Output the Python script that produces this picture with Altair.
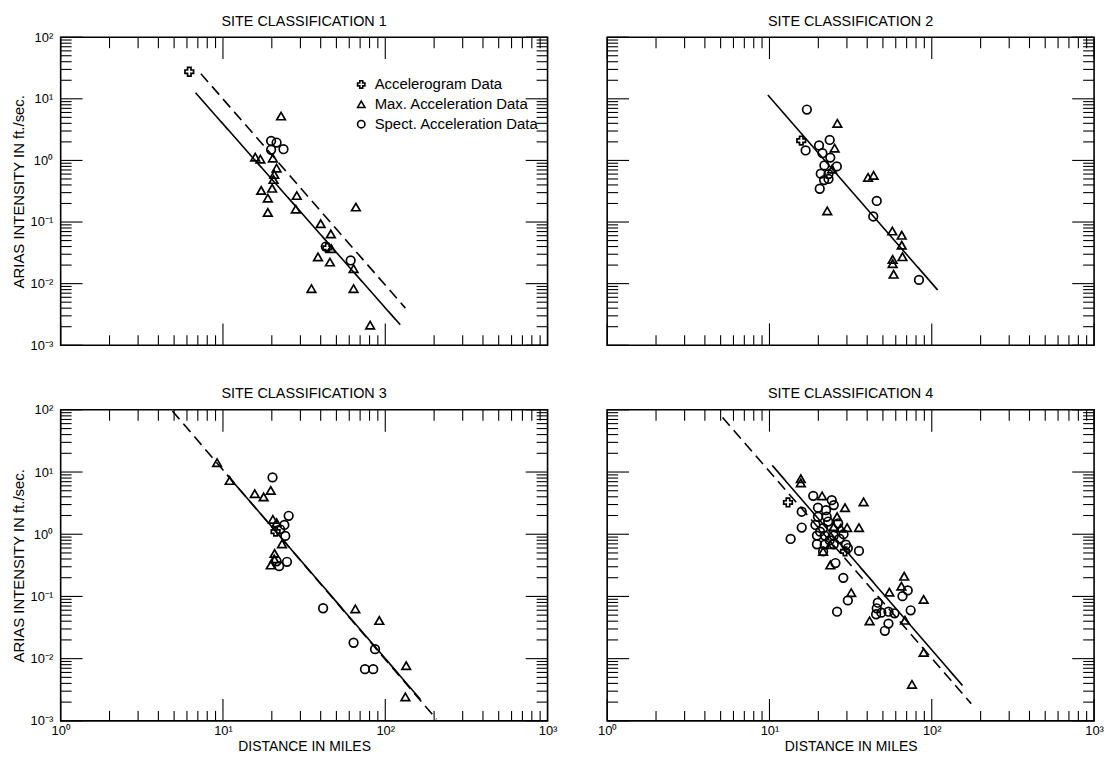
import altair as alt
import pandas as pd

W = 490
H_TOP = 310
H_BOT = 313

TYPES = ["Accelerogram Data", "Max. Acceleration Data", "Spect. Acceleration Data"]

x_major = [1, 10, 100, 1000]
x_minor = [2, 3, 4, 5, 6, 7, 8, 9, 20, 30, 40, 50, 60, 70, 80, 90,
           200, 300, 400, 500, 600, 700, 800, 900]
y_major = [0.001, 0.01, 0.1, 1, 10, 100]
y_top_only = [100]
y_minor = [0.002, 0.003, 0.004, 0.005, 0.006, 0.007, 0.008, 0.009,
           0.02, 0.03, 0.04, 0.05, 0.06, 0.07, 0.08, 0.09,
           0.2, 0.3, 0.4, 0.5, 0.6, 0.7, 0.8, 0.9,
           2, 3, 4, 5, 6, 7, 8, 9, 20, 30, 40, 50, 60, 70, 80, 90]

# ---- Site classification 1 ----
p1_acc_d = [6.2, 44.0]
p1_acc_i = [27.5, 0.038]
p1_tri_d = [22.8, 15.8, 17.0, 20.3, 21.4, 20.7, 20.5, 17.2, 20.1, 18.9, 18.9, 28.5,
            28.1, 65.9, 40.0, 46.2, 38.5, 45.6, 63.8, 35.1, 63.8, 80.7, 46.5]
p1_tri_i = [5.25, 1.13, 1.05, 1.09, 0.75, 0.59, 0.49, 0.325, 0.353, 0.244, 0.143, 0.269,
            0.162, 0.175, 0.094, 0.064, 0.0272, 0.0224, 0.0175, 0.0083, 0.0083, 0.00212, 0.037]
p1_circ_d = [19.8, 21.4, 19.8, 23.6, 61.2, 43.0]
p1_circ_i = [2.07, 1.95, 1.49, 1.52, 0.0238, 0.040]
p1_solid_d = [6.78, 123.6]
p1_solid_i = [12.5, 0.00215]
p1_dash_d = [7.31, 133.0]
p1_dash_i = [25.6, 0.0040]

# ---- Site classification 2 ----
p2_acc_d = [15.7]
p2_acc_i = [2.10]
p2_tri_d = [26.2, 25.2, 24.3, 40.5, 43.8, 22.7, 57.1, 65.3, 65.3, 66.0, 57.4, 57.4, 58.2]
p2_tri_i = [3.99, 1.58, 0.72, 0.53, 0.57, 0.152, 0.0714, 0.061, 0.042, 0.0273, 0.0247, 0.0211, 0.0142]
p2_circ_d = [17.0, 16.7, 20.2, 23.5, 21.2, 23.7, 21.8, 26.0, 20.7, 23.1, 21.7, 23.1,
             20.4, 45.8, 43.6, 83.4]
p2_circ_i = [6.7, 1.45, 1.75, 2.15, 1.31, 1.11, 0.83, 0.80, 0.61, 0.60, 0.48, 0.50,
             0.347, 0.22, 0.123, 0.0115]
p2_solid_d = [9.77, 108.6]
p2_solid_i = [11.5, 0.0079]
p2_dash_d = []
p2_dash_i = []

# ---- Site classification 3 ----
p3_acc_d = [21.1]
p3_acc_i = [1.10]
p3_tri_d = [9.2, 11.0, 15.7, 17.8, 19.7, 20.3, 21.4, 23.1, 20.8, 20.7, 19.7, 65.4,
            91.9, 134.6, 133.0]
p3_tri_i = [14.2, 7.3, 4.48, 3.97, 5.06, 1.73, 1.53, 0.70, 0.49, 0.40, 0.32, 0.063,
            0.041, 0.0077, 0.00243]
p3_circ_d = [20.2, 25.4, 23.9, 24.2, 21.4, 22.2, 24.8, 41.4, 63.8, 86.5, 75.0, 84.3, 22.5]
p3_circ_i = [8.2, 1.98, 1.41, 0.94, 0.368, 0.307, 0.36, 0.0646, 0.0180, 0.0142,
             0.00678, 0.00678, 1.2]
p3_solid_d = [10.6, 165.0]
p3_solid_i = [9.0, 0.0022]
p3_dash_d = [4.88, 207.0]
p3_dash_i = [96.0, 0.00106]

# ---- Site classification 4 ----
p4_acc_d = [13.0, 29.2]
p4_acc_i = [3.24, 0.53]
p4_tri_d = [15.6, 15.6, 21.1, 29.2, 38.0, 35.6, 26.1, 24.9, 27.5, 30.1, 23.7, 21.4,
            23.7, 31.9, 67.6, 54.8, 65.0, 89.1, 41.4, 68.4, 89.1, 75.5]
p4_tri_i = [7.8, 6.7, 4.14, 2.67, 3.32, 1.28, 1.91, 1.32, 1.25, 1.28, 0.68, 0.53,
            0.32, 0.115, 0.211, 0.117, 0.146, 0.0895, 0.0404, 0.0414, 0.0126, 0.00385]
p4_circ_d = [18.6, 24.2, 24.9, 19.9, 22.3, 15.8, 19.9, 22.5, 19.2, 21.4,
             15.8, 13.5, 19.6, 21.9, 24.9, 28.6, 19.6, 21.9, 24.9, 21.4,
             29.6, 30.4, 35.6, 25.5, 28.5, 30.4, 26.1, 46.5, 45.8, 45.4,
             48.9, 54.1, 58.9, 54.1, 51.4, 66.0, 71.1, 74.1, 23.0, 20.5,
             26.5, 23.5, 27.0]
p4_circ_i = [4.14, 3.53, 2.94, 2.67, 2.44, 2.30, 1.91, 1.91, 1.41, 1.25,
             1.28, 0.84, 0.95, 0.95, 0.95, 1.0, 0.69, 0.68, 0.69, 0.53,
             0.68, 0.60, 0.54, 0.344, 0.199, 0.0863, 0.0569, 0.0793, 0.0644, 0.0517,
             0.0549, 0.0569, 0.0536, 0.0366, 0.028, 0.101, 0.125, 0.0598, 1.6, 1.1,
             1.5, 0.8, 0.85]
p4_solid_d = [10.4, 154.6]
p4_solid_i = [12.8, 0.0037]
p4_dash_d = [5.14, 175.0]
p4_dash_i = [75.5, 0.00189]

FONT = "Liberation Sans, Arial, sans-serif"

X_LABELS = ("datum.value >= 500 ? '10\u00b3' : datum.value >= 50 ? '10\u00b2' : "
            "datum.value >= 5 ? '10\u00b9' : '10\u2070'")
Y_LABELS = ("datum.value >= 50 ? '10\u00b2' : datum.value >= 5 ? '10\u00b9' : "
            "datum.value >= 0.5 ? '10\u2070' : datum.value >= 0.05 ? '10\u207b\u00b9' : "
            "datum.value >= 0.005 ? '10\u207b\u00b2' : '10\u207b\u00b3'")


def points_frame(acc_d, acc_i, tri_d, tri_i, circ_d, circ_i):
    rows = []
    for d, v in zip(tri_d, tri_i):
        rows.append({"dist": d, "ai": v, "type": TYPES[1]})
    for d, v in zip(circ_d, circ_i):
        rows.append({"dist": d, "ai": v, "type": TYPES[2]})
    for d, v in zip(acc_d, acc_i):
        rows.append({"dist": d, "ai": v, "type": TYPES[0]})
    return pd.DataFrame(rows)


def lines_frame(solid_d, solid_i, dash_d, dash_i):
    rows = []
    for d, v in zip(solid_d, solid_i):
        rows.append({"dist": d, "ai": v, "style": "solid"})
    for d, v in zip(dash_d, dash_i):
        rows.append({"dist": d, "ai": v, "style": "dashed"})
    return pd.DataFrame(rows)


def make_panel(title, pts, lns, show_x, show_y, H):
    xscale = alt.Scale(type="log", domain=[1, 1000], nice=False)
    yscale = alt.Scale(type="log", domain=[0.001, 100], nice=False)
    if show_x:
        xaxis = alt.Axis(values=x_major, labelExpr=X_LABELS, title="DISTANCE IN MILES",
                         ticks=False, domain=False, grid=False, labelPadding=4,
                         labelFontSize=13, labelFont=FONT, labelColor="black",
                         titleFont=FONT, titleFontSize=14, titleFontWeight="normal",
                         titleColor="black", titlePadding=2, labelFlush=False)
    else:
        xaxis = None
    if show_y:
        yaxis = alt.Axis(values=y_major, labelExpr=Y_LABELS,
                         title="ARIAS INTENSITY IN ft./sec.",
                         ticks=False, domain=False, grid=False, labelPadding=8,
                         labelFontSize=13, labelFont=FONT, labelColor="black",
                         titleFont=FONT, titleFontSize=15, titleFontWeight="normal",
                         titleColor="black", titlePadding=4, labelFlush=False)
    else:
        # invisible top label only, so both panel titles of a row sit at one height
        yaxis = alt.Axis(values=y_top_only, labelExpr=Y_LABELS, title=None,
                         ticks=False, domain=False, grid=False, labelPadding=8,
                         labelFontSize=13, labelFont=FONT, labelOpacity=0,
                         labelFlush=False)

    X = lambda f: alt.X(f, scale=xscale, axis=xaxis)
    Y = lambda f: alt.Y(f, scale=yscale, axis=yaxis)

    pts_layer = alt.Chart(pts).mark_point(filled=False, strokeWidth=1.7, size=75, opacity=1).encode(
        x=X("dist:Q"), y=Y("ai:Q"),
        color=alt.value("black"),
        shape=alt.Shape("type:N", scale=alt.Scale(domain=TYPES,
                                                   range=["cross", "triangle-up", "circle"]),
                        legend=alt.Legend(title=None)),
    )
    line_layer = alt.Chart(lns).mark_line(color="black", strokeWidth=1.6).encode(
        x=X("dist:Q"), y=Y("ai:Q"), detail="style:N",
        strokeDash=alt.StrokeDash("style:N", scale=alt.Scale(domain=["solid", "dashed"],
                                                            range=[[1, 0], [11, 6]]),
                                  legend=None),
    )
    xmaj = pd.DataFrame({"v": x_major})
    xmin = pd.DataFrame({"v": x_minor})
    ymaj = pd.DataFrame({"v": y_major})
    ymin = pd.DataFrame({"v": y_minor})
    rule = dict(color="black", strokeWidth=1.1)
    ticks = [
        alt.Chart(xmaj).mark_rule(**rule).encode(x=X("v:Q"), y=alt.value(H), y2=alt.value(H - 22)),
        alt.Chart(xmin).mark_rule(**rule).encode(x=X("v:Q"), y=alt.value(H), y2=alt.value(H - 10)),
        alt.Chart(xmaj).mark_rule(**rule).encode(x=X("v:Q"), y=alt.value(0), y2=alt.value(22)),
        alt.Chart(xmin).mark_rule(**rule).encode(x=X("v:Q"), y=alt.value(0), y2=alt.value(11)),
        alt.Chart(ymaj).mark_rule(**rule).encode(y=Y("v:Q"), x=alt.value(0), x2=alt.value(22)),
        alt.Chart(ymin).mark_rule(**rule).encode(y=Y("v:Q"), x=alt.value(0), x2=alt.value(11)),
        alt.Chart(ymaj).mark_rule(**rule).encode(y=Y("v:Q"), x=alt.value(W), x2=alt.value(W - 22)),
        alt.Chart(ymin).mark_rule(**rule).encode(y=Y("v:Q"), x=alt.value(W), x2=alt.value(W - 11)),
    ]
    return alt.layer(*ticks, line_layer, pts_layer).properties(
        width=W, height=H,
        title=alt.TitleParams(title, font=FONT, fontSize=14.5, fontWeight="normal",
                              color="black", offset=2, frame="group"),
    )


p1 = make_panel("SITE CLASSIFICATION 1",
                points_frame(p1_acc_d, p1_acc_i, p1_tri_d, p1_tri_i, p1_circ_d, p1_circ_i),
                lines_frame(p1_solid_d, p1_solid_i, p1_dash_d, p1_dash_i), False, True, H_TOP)
p2 = make_panel("SITE CLASSIFICATION 2",
                points_frame(p2_acc_d, p2_acc_i, p2_tri_d, p2_tri_i, p2_circ_d, p2_circ_i),
                lines_frame(p2_solid_d, p2_solid_i, p2_dash_d, p2_dash_i), False, False, H_TOP)
p3 = make_panel("SITE CLASSIFICATION 3",
                points_frame(p3_acc_d, p3_acc_i, p3_tri_d, p3_tri_i, p3_circ_d, p3_circ_i),
                lines_frame(p3_solid_d, p3_solid_i, p3_dash_d, p3_dash_i), True, True, H_BOT)
p4 = make_panel("SITE CLASSIFICATION 4",
                points_frame(p4_acc_d, p4_acc_i, p4_tri_d, p4_tri_i, p4_circ_d, p4_circ_i),
                lines_frame(p4_solid_d, p4_solid_i, p4_dash_d, p4_dash_i), True, False, H_BOT)

chart = alt.concat(
    p1, p2, p3, p4, columns=2,
    spacing={"row": 65, "column": 60}, bounds="flush",
).properties(
    padding={"left": 2, "top": 2, "right": 0, "bottom": 0},
).configure(
    font=FONT,
).configure_view(
    stroke="black", strokeWidth=1.6,
).configure_legend(
    orient="none", legendX=295, legendY=40,
    labelFont=FONT, labelFontSize=15, labelColor="black", labelLimit=400,
    symbolSize=55, symbolStrokeWidth=1.6, symbolStrokeColor="black",
    rowPadding=4, labelOffset=6,
)

chart.save("out.html", embed_options={"renderer": "svg", "actions": False})
